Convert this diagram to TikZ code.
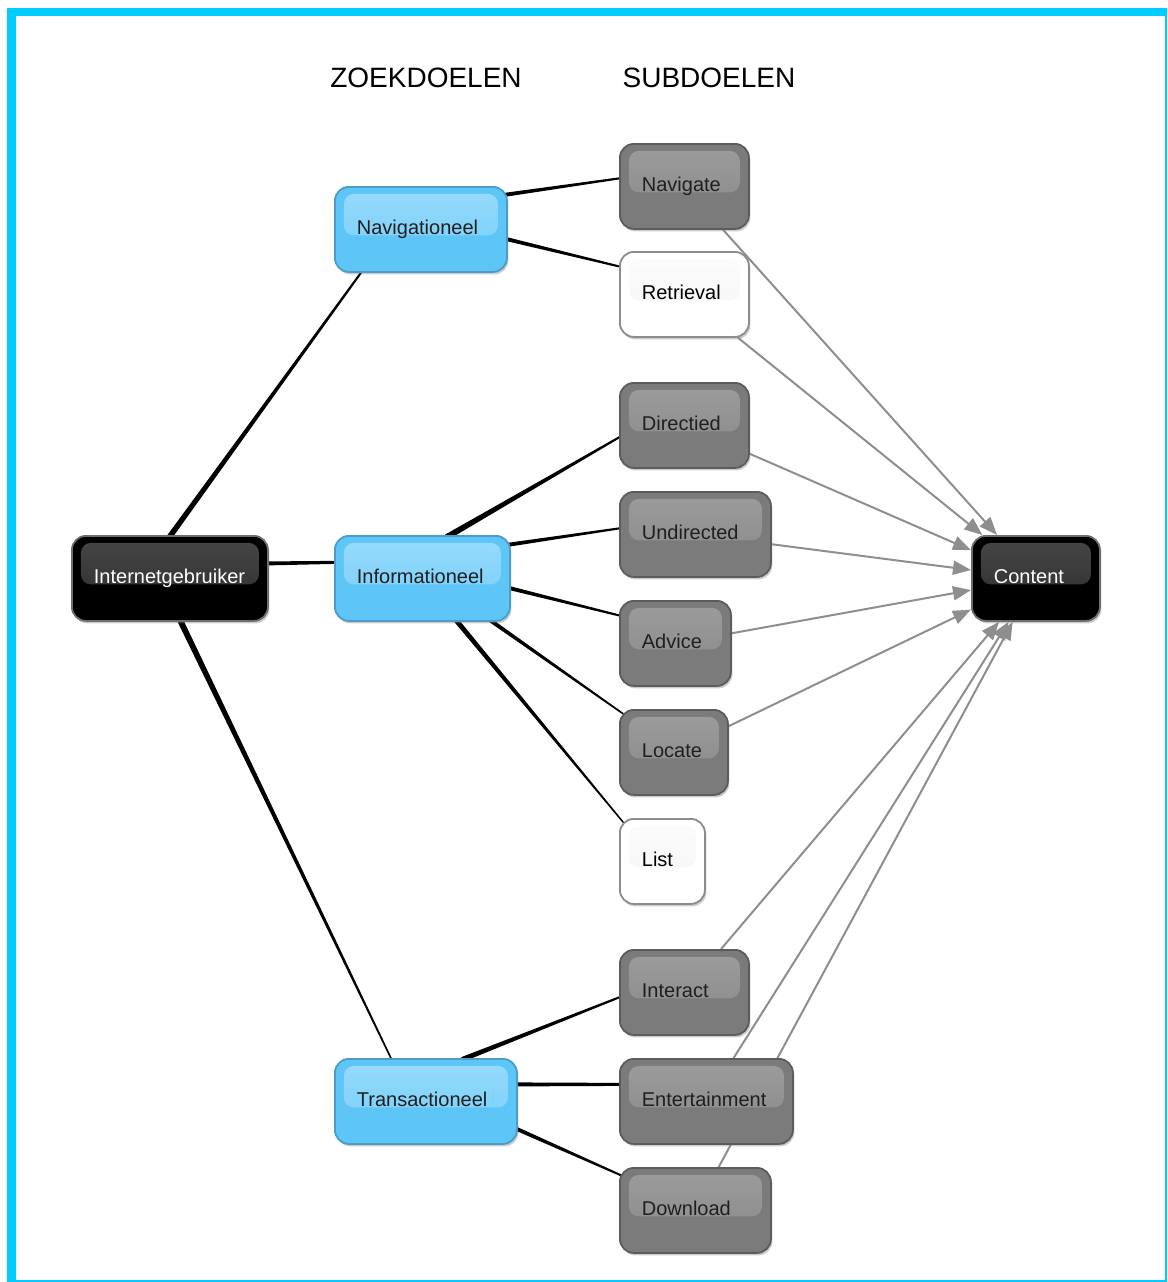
\documentclass[tikz,border=0pt]{standalone}
\usepackage{fontspec}
\setmainfont{Liberation Sans}
\usetikzlibrary{calc,shadows,backgrounds,arrows.meta}
\definecolor{framecyan}{HTML}{00CCFF}
\definecolor{nodeblue}{HTML}{5EC5F7}
\definecolor{bluetop}{HTML}{98DBFC}
\definecolor{bluebot}{HTML}{70CCF9}
\definecolor{blueedge}{HTML}{4A9DC9}
\definecolor{nodegray}{HTML}{7B7B7B}
\definecolor{graytop}{HTML}{9C9C9C}
\definecolor{graybot}{HTML}{878787}
\definecolor{grayedge}{HTML}{5C5C5C}
\definecolor{blacktop}{HTML}{474747}
\definecolor{blackbot}{HTML}{2A2A2A}
\definecolor{blackedge}{HTML}{6E6E6E}
\definecolor{whiteedge}{HTML}{8C8C8C}
\definecolor{whitetop}{HTML}{FCFCFC}
\definecolor{whitebot}{HTML}{F4F4F4}
\definecolor{arrowgray}{HTML}{8E8E8E}
\newcommand\taperline[4]{%
  \path (#1) coordinate (tpA) (#2) coordinate (tpB);
  \coordinate (tpAx) at ($(tpA)!-4pt!(tpB)$);
  \coordinate (tpBx) at ($(tpB)!-4pt!(tpA)$);
  \fill[black] ($(tpAx)!#3!90:(tpBx)$) -- ($(tpAx)!#3!-90:(tpBx)$)
     -- ($(tpBx)!#4!90:(tpAx)$) -- ($(tpBx)!#4!-90:(tpAx)$) -- cycle;}
\tikzset{
  box/.style={rounded corners=14pt, draw, line width=1.8pt, minimum height=85pt,
    inner xsep=22pt, inner ysep=0pt, anchor=north west, align=left,
    text height=14pt, text depth=4.5pt, font=\fontsize{20}{24}\selectfont,
    drop shadow={shadow xshift=1.5pt, shadow yshift=-2.5pt, opacity=0.4}},
  gloss/.style 2 args={path picture={\shade[top color=#1, bottom color=#2, rounded corners=10pt]
    ($(path picture bounding box.north west)+(9pt,-7pt)$) rectangle
    ($(path picture bounding box.east)+(-9pt,-6pt)$);}},
  bluebox/.style={box, fill=nodeblue, draw=blueedge, gloss={bluetop}{bluebot}, text=black!88},
  graybox/.style={box, fill=nodegray, draw=grayedge, gloss={graytop}{graybot}, text=black!88},
  whitebox/.style={box, fill=white, draw=whiteedge, gloss={whitetop}{whitebot}, text=black},
  blackbox/.style={box, fill=black, draw=blackedge, gloss={blacktop}{blackbot}, text=white},
  header/.style={anchor=base, inner sep=0pt, font=\fontsize{28}{34}\selectfont},
  grayarrow/.style={draw=arrowgray, line width=2pt,
    -{Triangle[length=18pt,width=14pt]}, fill=arrowgray}
}
\begin{document}
\begin{tikzpicture}[x=1pt,y=-1pt]
\useasboundingbox (0,0) rectangle (1167,1282);
% frame
\fill[framecyan] (7,8) rectangle (1167,16);
\fill[framecyan] (7,8) rectangle (16,1282);
\fill[framecyan] (1164.5,8) rectangle (1166.5,1282);
\fill[framecyan] (7,1280) rectangle (1167,1282);
% headers
\node[header] (hzoek) at (426,87) {ZOEKDOELEN};
\node[header] (hsub) at (709,87) {SUBDOELEN};
% nodes
\node[blackbox, text width=152pt] (ig) at (71,535) {Internetgebruiker};
\node[bluebox, text width=128pt] (nav) at (334,186) {Navigationeel};
\node[bluebox, text width=131pt] (info) at (334,535) {Informationeel};
\node[bluebox, text width=138pt] (trans) at (334,1058) {Transactioneel};
\node[graybox, text width=85pt] (navigate) at (619,143) {Navigate};
\node[whitebox, text width=85pt] (retrieval) at (619,251) {Retrieval};
\node[graybox, text width=85pt] (directied) at (619,382) {Directied};
\node[graybox, text width=107pt] (undirected) at (619,491) {Undirected};
\node[graybox, text width=67pt] (advice) at (619,600) {Advice};
\node[graybox, text width=64pt] (locate) at (619,709) {Locate};
\node[whitebox, text width=41pt] (list) at (619,818) {List};
\node[graybox, text width=85pt] (interact) at (619,949) {Interact};
\node[graybox, text width=129pt] (ent) at (619,1058) {Entertainment};
\node[graybox, text width=107pt] (download) at (619,1167) {Download};
\node[blackbox, text width=84pt] (content) at (971,535) {Content};
% connectors
\begin{pgfonlayer}{background}
\taperline{$(ig.north)+(1,0)$}{$(nav.south)+(-60,0)$}{2.8pt}{1pt}
\taperline{$(ig.east)+(0,-15)$}{$(info.west)+(0,-16)$}{2pt}{1.5pt}
\taperline{$(ig.south)+(11,0)$}{$(trans.north)+(-35,0)$}{3pt}{0.8pt}
\taperline{$(nav.east)+(0,-35)$}{$(navigate.west)+(0,-8)$}{2pt}{1pt}
\taperline{$(nav.east)+(0,10)$}{$(retrieval.west)+(0,-28)$}{2pt}{1pt}
\taperline{$(info.north)+(28,0)$}{$(directied.west)+(0,12)$}{3pt}{1pt}
\taperline{$(info.east)+(0,-34)$}{$(undirected.west)+(0,-6)$}{2pt}{1pt}
\taperline{$(info.east)+(0,10)$}{$(advice.west)+(0,-28)$}{2pt}{1pt}
\taperline{$(info.south)+(70,0)$}{$(locate.north west)+(3,4)$}{2pt}{0.8pt}
\taperline{$(info.south)+(35,0)$}{$(list.north west)+(4,4)$}{2.5pt}{0.7pt}
\taperline{$(trans.north)+(40,0)$}{$(interact.west)+(0,5)$}{2.5pt}{1pt}
\taperline{$(trans.east)+(0,-17)$}{$(ent.west)+(0,-17)$}{2pt}{1.5pt}
\taperline{$(trans.east)+(0,28)$}{$(download.west)+(0,-36)$}{2pt}{1pt}
\draw[grayarrow] (navigate) -- (content);
\draw[grayarrow] (retrieval) -- (content);
\draw[grayarrow] (directied) -- (content);
\draw[grayarrow] (undirected) -- (content);
\draw[grayarrow] (advice) -- (content);
\draw[grayarrow] (locate) -- (content);
\draw[grayarrow] (interact) -- (content);
\draw[grayarrow] (ent) -- (content);
\draw[grayarrow] (download) -- (content);
\end{pgfonlayer}
\end{tikzpicture}
\end{document}
